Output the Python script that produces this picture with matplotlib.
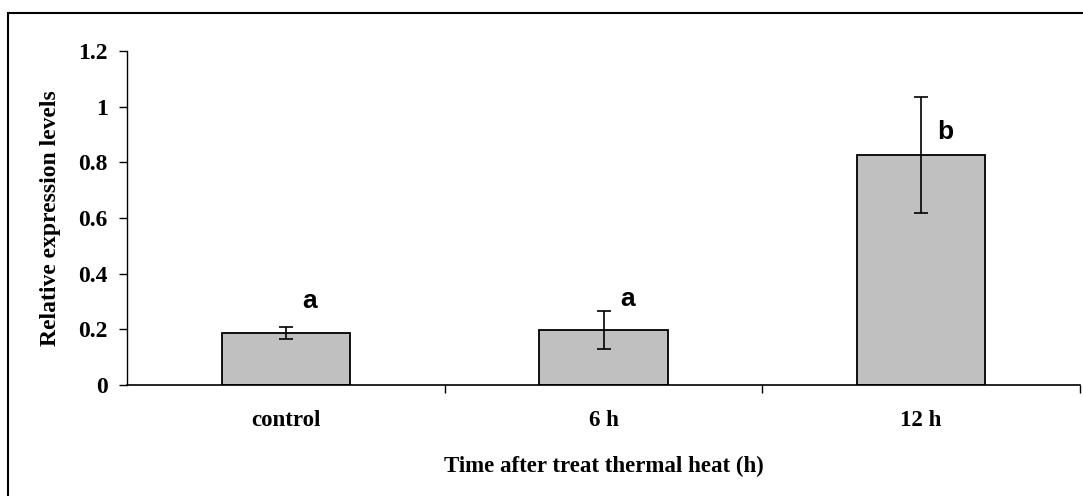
import matplotlib
matplotlib.use("Agg")
import matplotlib.pyplot as plt
from matplotlib.patches import Rectangle

categories = ["control", "6 h", "12 h"]
values = [0.187, 0.198, 0.826]
errors = [0.02, 0.068, 0.208]
letters = ["a", "a", "b"]
letter_y = [0.30, 0.31, 0.91]
yticks = [0, 0.2, 0.4, 0.6, 0.8, 1, 1.2]
ytick_labels = ["0", "0.2", "0.4", "0.6", "0.8", "1", "1.2"]

serif = "Liberation Serif"

fig = plt.figure(figsize=(10.83, 4.96), dpi=100)
ax = fig.add_axes([127/1083, 1-385/496, (1080-127)/1083, (385-51)/496])

x = list(range(len(categories)))
ax.bar(x, values, width=0.405, color="#c0c0c0", edgecolor="black", linewidth=1.3, zorder=2)
ax.errorbar(x, values, yerr=errors, fmt="none", ecolor="black", elinewidth=1.2,
            capsize=4.8, capthick=1.2, zorder=3)
for xi, lt, ly in zip(x, letters, letter_y):
    ax.text(xi + 0.075, ly, lt, ha="center", va="center", fontsize=19,
            fontweight="bold", family="Liberation Sans")

ax.set_xlim(-0.5, 2.5)
ax.set_ylim(0, 1.2)
ax.set_yticks(yticks)
ax.set_yticklabels(ytick_labels, family=serif, fontweight="bold", fontsize=17)
ax.set_xticks([0.5, 1.5, 2.5])
ax.set_xticklabels([])
ax.set_xticks(x, minor=True)
ax.set_xticklabels(categories, minor=True, family=serif, fontweight="bold", fontsize=16.5)
ax.tick_params(axis="x", which="minor", length=0, pad=18)
ax.tick_params(axis="x", which="major", direction="out", length=6, width=1)
ax.tick_params(axis="y", direction="out", length=6, width=1, pad=8)

ax.spines["top"].set_visible(False)
ax.spines["right"].set_visible(False)
ax.spines["left"].set_linewidth(1)
ax.spines["bottom"].set_linewidth(1.2)

ax.set_ylabel("Relative expression levels", family=serif, fontweight="bold", fontsize=17, labelpad=12)
ax.set_xlabel("Time after treat thermal heat (h)", family=serif, fontweight="bold", fontsize=16.5, labelpad=18)

fig.patches.append(Rectangle((8/1083, -0.1), 1.2, 1.1 - 13/496, transform=fig.transFigure,
                             fill=False, edgecolor="black", linewidth=1.5, zorder=0))

fig.savefig("out.png", dpi=100)
